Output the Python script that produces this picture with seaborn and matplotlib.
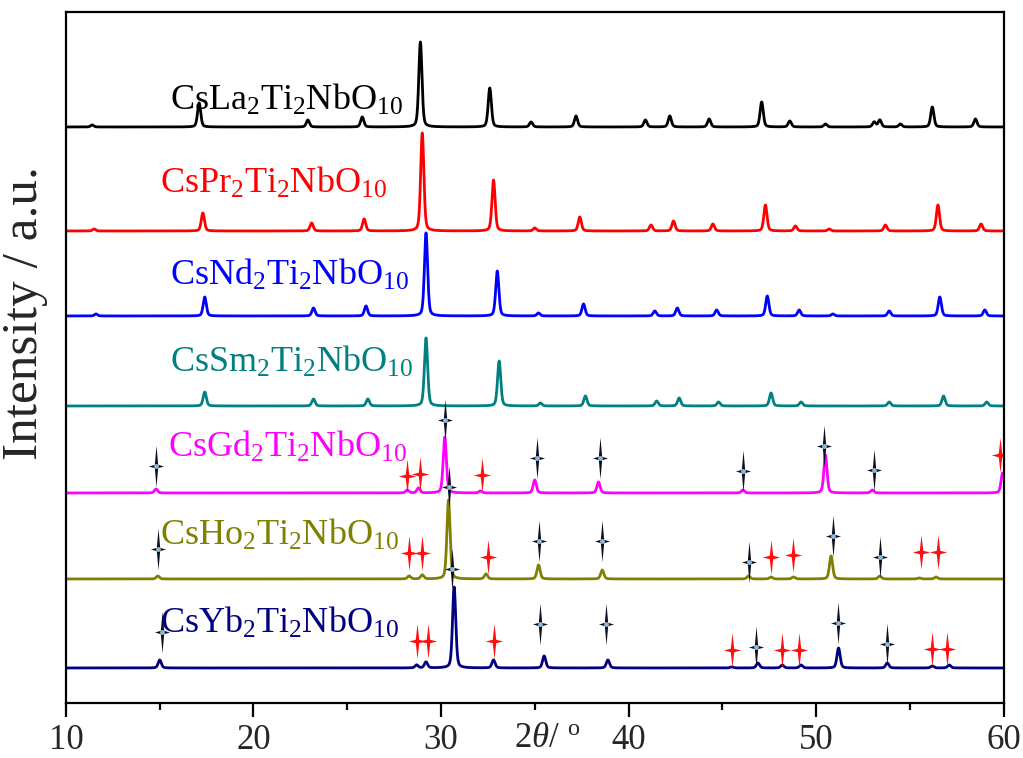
import numpy as np
import pandas as pd
import seaborn as sns
import matplotlib.pyplot as plt
from matplotlib.path import Path

# ---- data (intensity in arbitrary units, offset per sample) ----
samples = ["La", "Pr", "Nd", "Sm", "Gd", "Ho", "Yb"]
labels = [r"CsLa$_2$Ti$_2$NbO$_{10}$", r"CsPr$_2$Ti$_2$NbO$_{10}$", r"CsNd$_2$Ti$_2$NbO$_{10}$",
          r"CsSm$_2$Ti$_2$NbO$_{10}$", r"CsGd$_2$Ti$_2$NbO$_{10}$", r"CsHo$_2$Ti$_2$NbO$_{10}$",
          r"CsYb$_2$Ti$_2$NbO$_{10}$"]
colors = ["#000000", "#ff0000", "#0000ff", "#008080", "#ff00ff", "#808000", "#000080"]
offsets = [576, 472, 387, 297, 210, 124, 35]

peak_pos = {
    "La": [11.4, 17.1, 22.9, 25.8, 28.9, 32.6, 34.8, 37.2, 40.9, 42.2, 44.3, 47.1, 48.6, 50.5, 53.1, 53.4, 54.5, 56.2, 58.5],
    "Pr": [11.5, 17.3, 23.1, 25.9, 29.0, 32.8, 35.0, 37.4, 41.2, 42.4, 44.5, 47.3, 48.9, 50.7, 53.7, 56.5, 58.8],
    "Nd": [11.6, 17.4, 23.2, 26.0, 29.2, 33.0, 35.2, 37.6, 41.4, 42.6, 44.7, 47.4, 49.1, 50.9, 53.9, 56.6, 59.0],
    "Sm": [17.4, 23.2, 26.1, 29.2, 33.1, 35.3, 37.7, 41.5, 42.7, 44.8, 47.6, 49.2, 53.9, 56.8, 59.1],
    "Gd": [14.8, 28.2, 28.8, 30.2, 32.1, 35.0, 38.4, 46.1, 50.5, 53.0, 59.95],
    "Ho": [14.9, 28.3, 29.0, 30.4, 32.4, 35.2, 38.6, 46.4, 47.6, 48.8, 50.8, 53.4, 55.5, 56.4],
    "Yb": [15.0, 28.7, 29.2, 30.7, 32.8, 35.5, 38.9, 45.5, 46.9, 48.2, 49.2, 51.2, 53.8, 56.2, 57.1],
}
peak_int = {
    "La": [2, 24, 7, 10, 85, 39, 5, 11, 7, 11, 8, 25, 6, 3, 5, 7, 3, 20, 8],
    "Pr": [2, 18, 8, 12, 98, 51, 3, 14, 6, 10, 7, 26, 5, 2, 6, 26, 7],
    "Nd": [2, 19, 8, 10, 83, 45, 3, 12, 5, 8, 6, 20, 6, 2, 5, 19, 6],
    "Sm": [14, 7, 7, 68, 45, 3, 10, 5, 8, 4, 13, 4, 4, 10, 4],
    "Gd": [4, 3, 5, 56, 2, 13, 11, 3, 38, 3, 20],
    "Ho": [3, 3, 4, 79, 5, 14, 9, 3, 2, 2, 23, 3, 1, 2],
    "Yb": [8, 3, 6, 81, 8, 12, 8, 1, 5, 3, 3, 20, 5, 2, 3],
}

# phase markers: (2theta, height in plot units)
black_star_x = {
    "Gd": [14.8, 30.2, 35.1, 38.5, 46.1, 50.4, 53.1],
    "Ho": [14.9, 30.4, 35.2, 38.6, 46.45, 50.9, 53.4],
    "Yb": [15.1, 30.6, 35.3, 38.8, 46.8, 51.15, 53.8],
}
black_star_y = {
    "Gd": [237, 283, 245, 245, 232, 257, 233],
    "Ho": [154, 216, 162, 162, 141, 167, 146],
    "Yb": [71, 134, 79, 79, 56, 80, 59],
}
red_star_x = {
    "Gd": [28.2, 28.9, 32.2, 59.8],
    "Ho": [28.3, 29.0, 32.5, 47.6, 48.75, 55.6, 56.5],
    "Yb": [28.7, 29.3, 32.8, 45.5, 48.2, 49.1, 56.2, 57.0],
}
red_star_y = {
    "Gd": [227, 229, 228, 248],
    "Ho": [150, 150, 146, 146, 148, 151, 151],
    "Yb": [62, 62, 62, 53, 53, 53, 54, 54],
}

label_x = [15.55, 15.0, 15.55, 15.55, 15.45, 15.0, 15.0]
label_y = [603, 520, 428, 341, 256, 168, 80]


def pattern(two_theta, pos, amp, fwhm=0.2, eta=0.35):
    y = np.zeros_like(two_theta)
    for p, a in zip(pos, amp):
        d = two_theta - p
        g = np.exp(-4 * np.log(2) * d ** 2 / fwhm ** 2)
        l = 1 / (1 + 4 * d ** 2 / fwhm ** 2)
        y += a * (eta * l + (1 - eta) * g)
    return y


def star_marker(w=0.3, c=0.08):
    verts = [(0, 1), (c, c), (w, 0), (c, -c), (0, -1), (-c, -c), (-w, 0), (-c, c), (0, 1)]
    codes = [Path.MOVETO] + [Path.LINETO] * 7 + [Path.CLOSEPOLY]
    return Path(verts, codes)


def plot():
    sns.set_theme(style="white")
    plt.rcParams["font.family"] = ["Liberation Serif", "DejaVu Serif"]
    plt.rcParams["mathtext.fontset"] = "custom"
    plt.rcParams["mathtext.rm"] = "Liberation Serif"
    plt.rcParams["mathtext.it"] = "Liberation Serif:italic"

    two_theta = np.linspace(10, 60, 6001)
    frames = []
    for s, off in zip(samples, offsets):
        frames.append(pd.DataFrame({
            "two_theta": two_theta,
            "intensity": off + pattern(two_theta, peak_pos[s], peak_int[s]),
            "sample": s,
        }))
    data = pd.concat(frames, ignore_index=True)

    fig = plt.figure(figsize=(10.23, 7.58), dpi=100)
    ax = fig.add_axes([0.0645, 0.0726, 0.9165, 0.9116])

    sns.lineplot(ax=ax, data=data, x="two_theta", y="intensity", hue="sample",
                 hue_order=samples, palette=colors, linewidth=2.0, legend=False,
                 estimator=None, sort=False)

    for s, lab, col, lx, ly in zip(samples, labels, colors, label_x, label_y):
        ax.text(lx, ly, lab, color=col, fontsize=26, va="center", ha="left")

    blk = star_marker(0.36, 0.08)
    red = star_marker(0.5, 0.1)
    for s in black_star_x:
        ax.plot(black_star_x[s], black_star_y[s], linestyle="none", marker=blk,
                markersize=30, color="#0d0d1f", markeredgewidth=0)
        ax.plot(black_star_x[s], black_star_y[s], linestyle="none", marker="o",
                markersize=3.5, color="#8fb8d8", markeredgewidth=0)
        ax.plot(red_star_x[s], red_star_y[s], linestyle="none", marker=red,
                markersize=25, color="#ff1010", markeredgewidth=0)

    ax.set_xlim(10, 60)
    ax.set_ylim(0, 691)
    ax.set_xticks(np.arange(10, 61, 10))
    ax.set_xticks(np.arange(15, 60, 10), minor=True)
    ax.set_yticks([])
    ax.tick_params(axis="x", which="major", direction="out", length=10, width=1.6,
                   labelsize=25, pad=5, color="black", bottom=True)
    ax.tick_params(axis="x", which="minor", direction="out", length=5, width=1.6,
                   color="black", bottom=True)
    for sp in ax.spines.values():
        sp.set_linewidth(1.6)
        sp.set_color("black")

    ax.set_xlabel(r"2$\mathit{\theta}$/ $^{\mathrm{o}}$", fontsize=25)
    ax.xaxis.set_label_coords(0.513, -0.052)
    ax.xaxis.label.set_va("center")
    ax.set_ylabel("Intensity / a.u.", fontsize=37)
    ax.yaxis.set_label_coords(-0.019, 0.564)

    plt.savefig("out.png", dpi=100)


if __name__ == '__main__':
    plot()
